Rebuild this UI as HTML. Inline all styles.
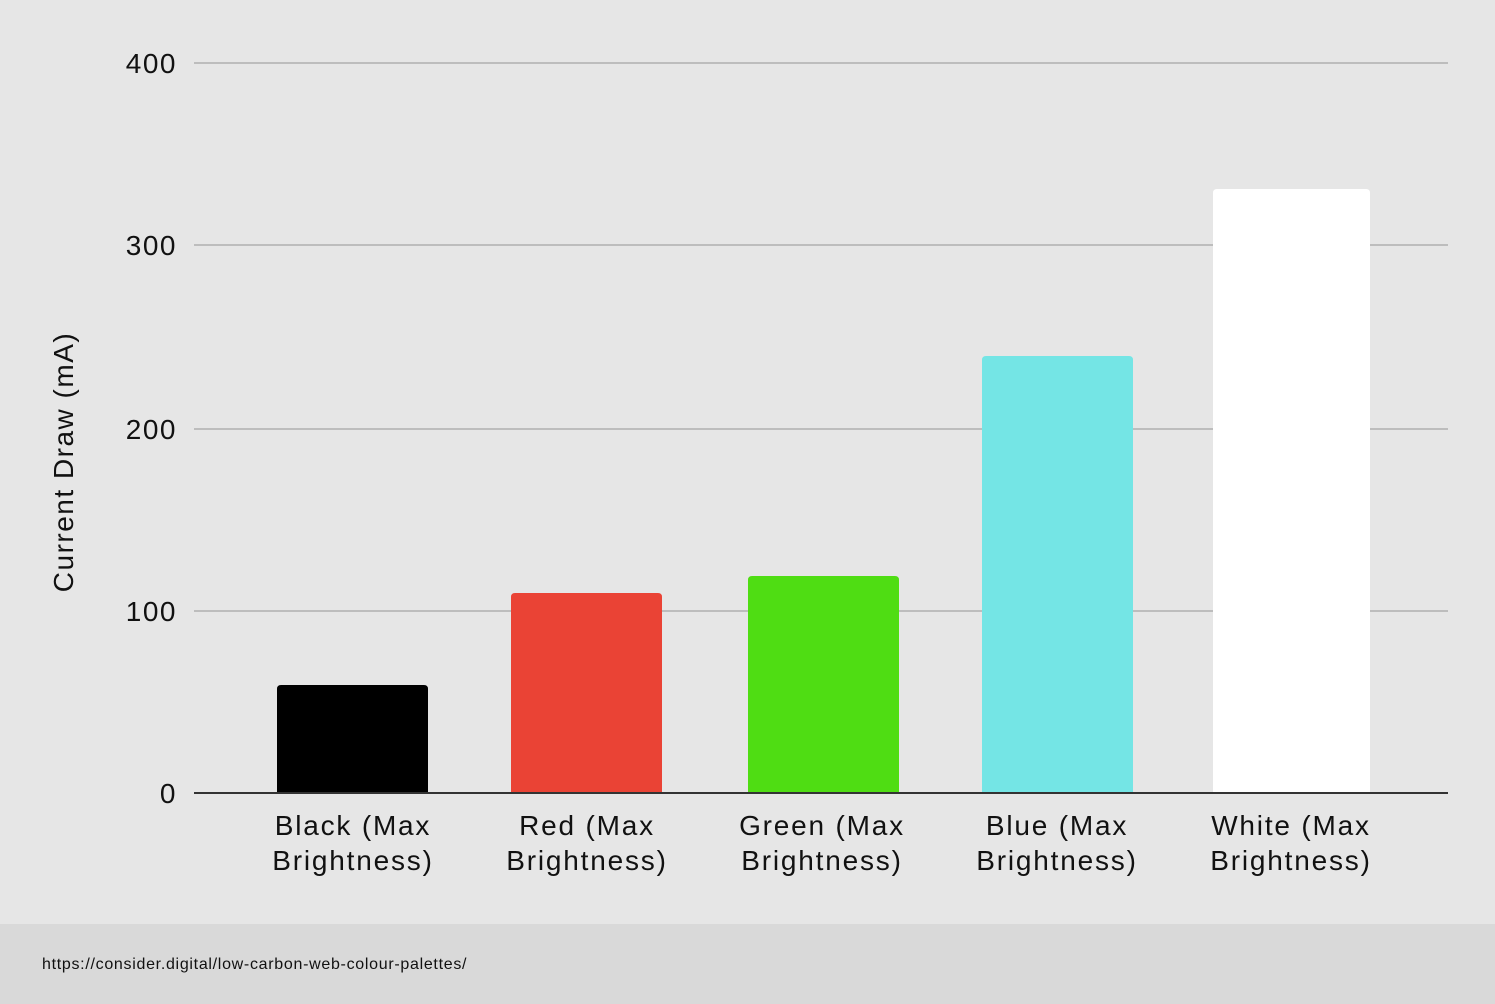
<!DOCTYPE html>
<html><head><meta charset="utf-8"><style>
html,body{margin:0;padding:0;background:#e6e6e6;}
svg{display:block;}
text{font-family:"Liberation Sans",sans-serif;fill:#111;}
</style></head><body>
<svg width="1495" height="1004" viewBox="0 0 1495 1004">
<rect x="0" y="0" width="1495" height="924" fill="#e6e6e6"/>
<rect x="0" y="924" width="1495" height="80" fill="#d9d9d9"/>
<g stroke="#bdbdbd" stroke-width="2">
<line x1="194" y1="63" x2="1448" y2="63"/>
<line x1="194" y1="245" x2="1448" y2="245"/>
<line x1="194" y1="429" x2="1448" y2="429"/>
<line x1="194" y1="611" x2="1448" y2="611"/>
</g>
<g font-size="28" text-anchor="end" letter-spacing="1.5">
<text x="177" y="73">400</text>
<text x="177" y="255">300</text>
<text x="177" y="439">200</text>
<text x="177" y="621">100</text>
<text x="177" y="803">0</text>
</g>
<text transform="translate(73,462) rotate(-90)" font-size="28" text-anchor="middle" letter-spacing="1.5">Current Draw (mA)</text>
<path d="M277,793 V689 Q277,685 281,685 H424 Q428,685 428,689 V793 Z" fill="#000"/>
<path d="M511,793 V597 Q511,593 515,593 H658 Q662,593 662,597 V793 Z" fill="#ea4335"/>
<path d="M748,793 V580 Q748,576 752,576 H895 Q899,576 899,580 V793 Z" fill="#4fdd13"/>
<path d="M982,793 V360 Q982,356 986,356 H1129 Q1133,356 1133,360 V793 Z" fill="#74e5e5"/>
<path d="M1213,793 V193 Q1213,189 1217,189 H1366 Q1370,189 1370,193 V793 Z" fill="#fff"/>
<line x1="194" y1="793" x2="1448" y2="793" stroke="#333" stroke-width="2"/>
<g font-size="28" text-anchor="middle" letter-spacing="1.8">
<text x="353" y="835">Black (Max</text><text x="353" y="870">Brightness)</text>
<text x="587" y="835">Red (Max</text><text x="587" y="870">Brightness)</text>
<text x="822" y="835">Green (Max</text><text x="822" y="870">Brightness)</text>
<text x="1057" y="835">Blue (Max</text><text x="1057" y="870">Brightness)</text>
<text x="1291" y="835">White (Max</text><text x="1291" y="870">Brightness)</text>
</g>
<text x="42" y="969" font-size="16" letter-spacing="0.7">https://consider.digital/low-carbon-web-colour-palettes/</text>
</svg>
</body></html>
